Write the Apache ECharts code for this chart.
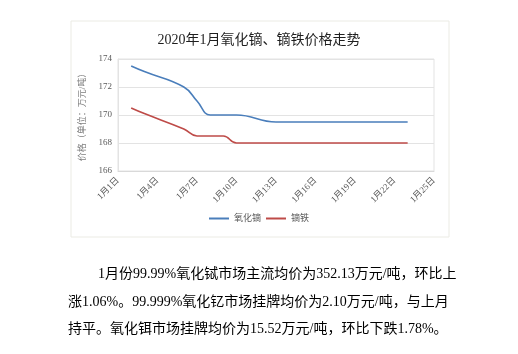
<!DOCTYPE html>
<html lang="zh">
<head>
  <meta charset="UTF-8">
  <title>2020年1月氧化镝、镝铁价格走势</title>
  <style>
    body { margin: 0; background: #fff; }
    #main { position: absolute; left: 0; top: 0; width: 518px; height: 354px; }
    .para { position: absolute; left: 68px; top: 260px; width: 380px;
      font-family: 'Liberation Serif', 'Noto Sans CJK SC', serif; font-size: 14px;
      line-height: 27.5px; color: #000; }
    .para div { text-align: justify; text-align-last: justify; white-space: nowrap; }
    .para div.first { text-indent: 30px; }
    .para div.last { text-align-last: left; }
  </style>
</head>
<body>
<div id="main"></div>
<div class="para">
  <div class="first">1月份99.99%氧化铽市场主流均价为352.13万元/吨，环比上</div>
  <div>涨1.06%。99.999%氧化钇市场挂牌均价为2.10万元/吨，与上月</div>
  <div class="last">持平。氧化铒市场挂牌均价为15.52万元/吨，环比下跌1.78%。</div>
</div>
<script src="https://cdn.jsdelivr.net/npm/echarts@6/dist/echarts.min.js"></script>
<script type="text/javascript">
  const days = ['1月1日', '1月2日', '1月3日', '1月4日', '1月5日', '1月6日', '1月7日', '1月8日', '1月9日',
    '1月10日', '1月11日', '1月12日', '1月13日', '1月14日', '1月15日', '1月16日', '1月17日', '1月18日',
    '1月19日', '1月20日', '1月21日', '1月22日', '1月23日', '1月24日', '1月25日']
  // 非交易日为 null
  const dyOxide = [null, 173.5, 173.1, null, null, 172.0, 171.0, 170.0, 170.0, 170.0, null, null,
    169.5, 169.5, 169.5, 169.5, 169.5, null, null, 169.5, 169.5, 169.5, 169.5, null, null]
  const dyFe = [null, 170.5, 170.1, null, null, 169.0, 168.5, 168.5, 168.5, 168.0, null, null,
    168.0, 168.0, 168.0, 168.0, 168.0, null, null, 168.0, 168.0, 168.0, 168.0, null, null]
  const seriesNames = ['氧化镝', '镝铁']

  const serif = "'Liberation Serif', 'Noto Sans CJK SC', serif"
  const Chart = echarts.init(document.getElementById('main'))

  const option = {
    animation: false,
    title: {
      text: '2020年1月氧化镝、镝铁价格走势',
      left: 'center',
      top: 28,
      textStyle: { fontFamily: serif, fontSize: 14, fontWeight: 'normal', color: '#1f1f1f' }
    },
    graphic: [{
      type: 'rect',
      shape: { x: 71, y: 21, width: 378, height: 216 },
      style: { fill: 'none', stroke: '#ebebe4', lineWidth: 1 }
    }],
    legend: {
      data: seriesNames,
      bottom: 126,
      left: 'center',
      icon: 'rect',
      itemWidth: 20,
      itemHeight: 2,
      itemGap: 5,
      textStyle: { fontFamily: serif, fontSize: 9, color: '#595959' }
    },
    grid: {
      left: 118, right: 84, top: 59, bottom: 183,
      show: true, borderColor: '#e3e3e3', borderWidth: 1
    },
    xAxis: {
      type: 'category',
      data: days,
      boundaryGap: false,
      axisLine: { lineStyle: { color: '#d9d9d9' } },
      axisTick: { show: false },
      axisLabel: { interval: 2, rotate: 45, margin: 8, fontFamily: serif, fontSize: 9, color: '#595959' }
    },
    yAxis: {
      type: 'value',
      min: 166, max: 174, interval: 2,
      name: '价格（单位：万元/吨）',
      nameLocation: 'middle',
      nameGap: 28,
      nameTextStyle: { fontFamily: serif, fontSize: 9, color: '#7f7f7f' },
      axisLine: { show: true, lineStyle: { color: '#e3e3e3' } },
      axisLabel: { margin: 6, fontFamily: serif, fontSize: 9, color: '#595959' },
      splitLine: { lineStyle: { color: '#e3e3e3' } }
    },
    series: [{
      name: seriesNames[0],
      type: 'line',
      data: dyOxide,
      connectNulls: true,
      smooth: 0.45,
      showSymbol: false,
      lineStyle: { width: 1.6, color: '#4a7ebb' },
      itemStyle: { color: '#4a7ebb' }
    }, {
      name: seriesNames[1],
      type: 'line',
      data: dyFe,
      connectNulls: true,
      smooth: 0.45,
      showSymbol: false,
      lineStyle: { width: 1.6, color: '#be4b48' },
      itemStyle: { color: '#be4b48' }
    }]
  }

  Chart.setOption(option)
</script>
</body>
</html>
